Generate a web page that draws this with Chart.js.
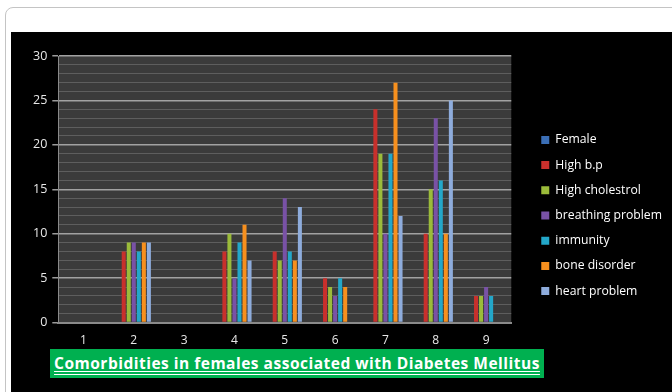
<!DOCTYPE html>
<html>
<head>
<meta charset="utf-8">
<script src="https://cdn.jsdelivr.net/npm/chart.js@4.4.1/dist/chart.umd.min.js"></script>
<style>
  html, body { margin: 0; padding: 0; background: #fff; width: 672px; height: 392px; overflow: hidden; }
  #frame { position: absolute; left: 5px; top: 7px; width: 700px; height: 420px; border: 1px solid #c4c4c4; border-radius: 8px; }
  #panel { position: absolute; left: 11px; top: 32px; width: 661px; height: 360px; background: #000; }
  #chartBox { position: absolute; left: 0; top: 0; width: 661px; height: 360px; }
  #chartTitle {
    position: absolute; left: 39px; top: 317px; width: 494px; height: 29px;
    background: #00b050; color: #fff; font-family: "Open Sans", sans-serif; font-weight: 700;
    font-size: 15.5px; letter-spacing: 0.5px; line-height: 29px; text-align: center; white-space: nowrap;
    text-decoration: underline double; text-underline-offset: 2px;
  }
</style>
</head>
<body>
<div id="frame"></div>
<div id="panel">
  <div id="chartBox"><canvas id="comorbidityChart"></canvas></div>
  <div id="chartTitle">Comorbidities in females associated with Diabetes Mellitus</div>
</div>
<script>
  const categories = ["1", "2", "3", "4", "5", "6", "7", "8", "9"];

  const female          = [0, 0, 0, 0, 0, 0, 0, 0, 0];
  const highBp          = [0, 8, 0, 8, 8, 5, 24, 10, 3];
  const highCholestrol  = [0, 9, 0, 10, 7, 4, 19, 15, 3];
  const breathing       = [0, 9, 0, 5, 14, 3, 10, 23, 4];
  const immunity        = [0, 8, 0, 9, 8, 5, 19, 16, 3];
  const boneDisorder    = [0, 9, 0, 11, 7, 4, 27, 10, 0];
  const heartProblem    = [0, 9, 0, 7, 13, 0, 12, 25, 0];

  const yTicks = [0, 5, 10, 15, 20, 25, 30];

  const legendGap = 9;
  const legendShift = 8;
  const legendDrop = 8;

  // dark plot wall + move legend away from the plot
  const plotWall = {
    id: "plotWall",
    beforeLayout(chart) {
      const lg = chart.legend;
      if (lg && !lg._gapPatched) {
        const fit = lg.fit;
        lg.fit = function () {
          fit.call(this);
          this.width += legendGap;
        };
        lg._gapPatched = true;
      }
    },
    afterLayout(chart) {
      if (chart.legend) {
        chart.legend.left += legendGap + legendShift;
        chart.legend.right += legendShift;
        chart.legend.top += legendDrop;
        chart.legend.bottom += legendDrop;
      }
    },
    beforeDraw(chart) {
      const { ctx, chartArea: a } = chart;
      ctx.save();
      ctx.fillStyle = "#3b3b3b";
      ctx.fillRect(a.left, a.top, a.right - a.left, a.bottom - a.top);
      ctx.restore();
    }
  };

  const ctx = document.getElementById("comorbidityChart").getContext("2d");
  new Chart(ctx, {
    type: "bar",
    data: {
      labels: categories,
      datasets: [
        { label: "Female", data: female, backgroundColor: "#3b6fb6" },
        { label: "High b.p", data: highBp, backgroundColor: "#c8302c" },
        { label: "High cholestrol", data: highCholestrol, backgroundColor: "#9bbb3a" },
        { label: "breathing problem", data: breathing, backgroundColor: "#7952a6" },
        { label: "immunity", data: immunity, backgroundColor: "#23a7c9" },
        { label: "bone disorder", data: boneDisorder, backgroundColor: "#f7901e" },
        { label: "heart problem", data: heartProblem, backgroundColor: "#8eacdc" }
      ]
    },
    options: {
      responsive: true,
      maintainAspectRatio: false,
      animation: false,
      layout: { padding: { left: 17, top: 24, right: 8, bottom: 33 } },
      datasets: { bar: { barPercentage: 0.8, categoryPercentage: 0.7 } },
      plugins: {
        legend: {
          position: "right",
          align: "center",
          labels: {
            color: "#ffffff",
            boxWidth: 8,
            boxHeight: 8,
            padding: 13,
            font: { family: "'Open Sans', sans-serif", size: 12.2 }
          }
        },
        tooltip: { enabled: false },
        title: { display: false }
      },
      scales: {
        x: {
          grid: { display: false, drawTicks: false },
          border: { color: "#8a8a8a", width: 2 },
          ticks: { color: "#e8e8e8", padding: 11, font: { family: "'Open Sans', sans-serif", size: 12 } }
        },
        y: {
          min: 0,
          max: 30,
          afterBuildTicks(scale) {
            const t = [];
            for (let v = 0; v <= 30; v++) t.push({ value: v });
            scale.ticks = t;
          },
          ticks: {
            autoSkip: false,
            color: "#e8e8e8",
            padding: 5,
            font: { family: "'Open Sans', sans-serif", size: 12.5 },
            callback: v => (yTicks.includes(v) ? v : "")
          },
          border: { color: "#8a8a8a" },
          grid: {
            tickLength: 6,
            color: c => (c.tick && c.tick.value % 5 === 0 ? "#a2a2a2" : "#5e5e5e"),
            lineWidth: c => (c.tick && c.tick.value % 5 === 0 ? 1.5 : 1),
            tickColor: c => (c.tick && c.tick.value % 5 === 0 ? "#9a9a9a" : "rgba(0,0,0,0)")
          }
        }
      }
    },
    plugins: [plotWall]
  });
</script>
</body>
</html>
